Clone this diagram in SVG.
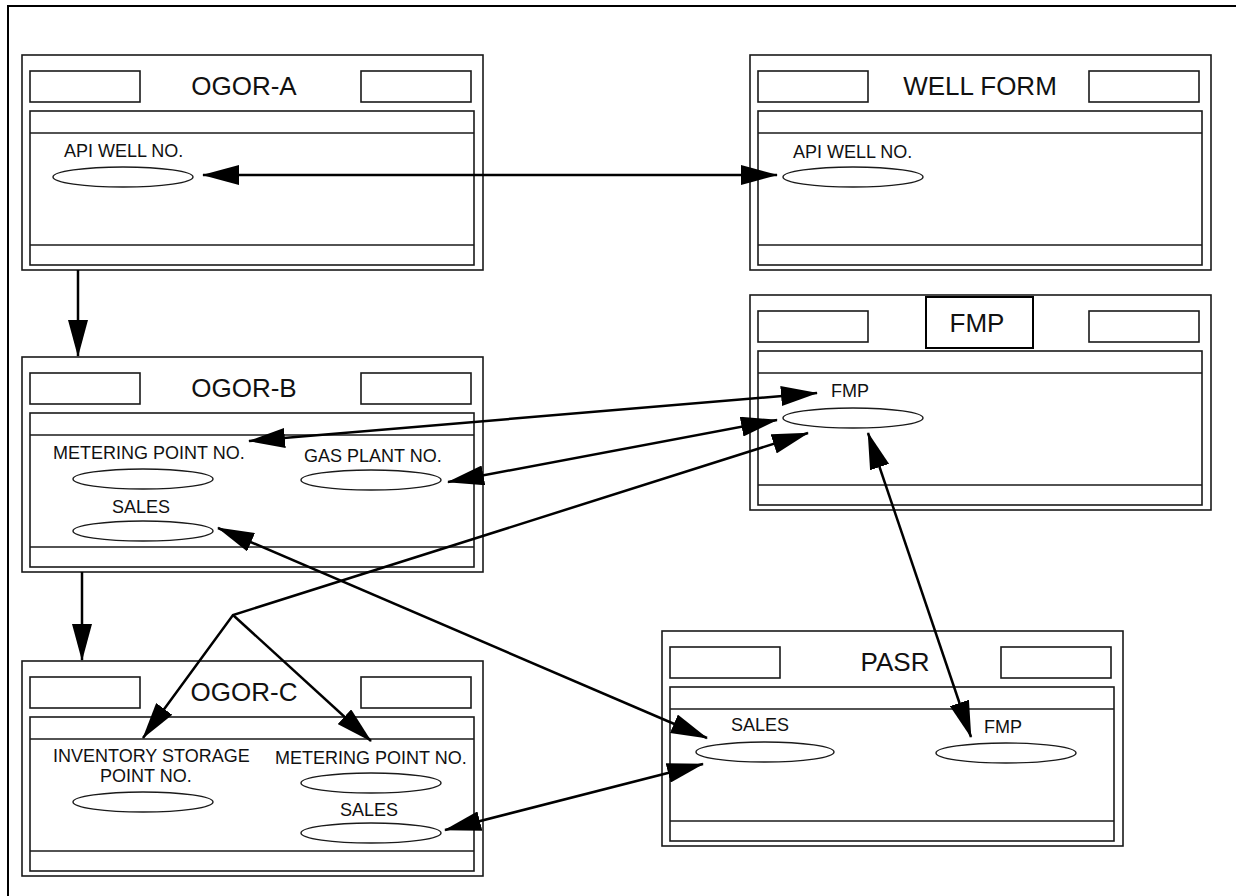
<svg xmlns="http://www.w3.org/2000/svg" xmlns:xlink="http://www.w3.org/1999/xlink" width="1236" height="896" viewBox="0 0 1236 896">
  <style>
    .frm { fill: none; stroke: #1a1a1a; stroke-width: 1.6; }
    .ell { fill: #ffffff; stroke: #1a1a1a; stroke-width: 1.4; }
    .title { font-family: "Liberation Sans", Arial, sans-serif; font-size: 26px; fill: #111; }
    .lbl { font-family: "Liberation Sans", Arial, sans-serif; font-size: 18px; fill: #111; }
    .mid { text-anchor: middle; }
    .con { fill: none; stroke: #000; stroke-width: 2.5; }
  </style>
  <defs>
    <marker id="ah" markerUnits="userSpaceOnUse" viewBox="0 0 37 20" markerWidth="37" markerHeight="20" refX="36" refY="10" orient="auto-start-reverse">
      <path d="M0,0 L37,10 L0,20 z" fill="#000"/>
    </marker>
    <g id="form">
      <rect class="frm" x="0" y="0" width="461" height="215"/>
      <rect class="frm" x="8" y="16" width="110" height="31"/>
      <rect class="frm" x="339" y="16" width="110" height="31"/>
      <rect class="frm" x="8" y="56" width="444" height="154"/>
      <line class="frm" x1="8" y1="78" x2="452" y2="78"/>
      <line class="frm" x1="8" y1="190" x2="452" y2="190"/>
    </g>
  </defs>
  <rect x="0" y="0" width="1236" height="896" fill="#ffffff"/>
  <path d="M8,896 V6 H1236" fill="none" stroke="#000" stroke-width="2"/>

  <g id="ogor-a" transform="translate(22,55)">
    <use xlink:href="#form"/>
    <text class="title mid" x="222" y="40">OGOR-A</text>
    <text class="lbl" x="42" y="102">API WELL NO.</text>
    <ellipse class="ell" cx="101" cy="122" rx="70" ry="10"/>
  </g>

  <g id="well-form" transform="translate(750,55)">
    <use xlink:href="#form"/>
    <text class="title mid" x="230" y="40">WELL FORM</text>
    <text class="lbl" x="43" y="103">API WELL NO.</text>
    <ellipse class="ell" cx="103" cy="122" rx="70" ry="10"/>
  </g>

  <g id="fmp" transform="translate(750,295)">
    <use xlink:href="#form"/>
    <rect x="176" y="2" width="107" height="51" fill="#ffffff" stroke="#000" stroke-width="2"/>
    <text class="title mid" x="227" y="37">FMP</text>
    <text class="lbl" x="81" y="102">FMP</text>
    <ellipse class="ell" cx="103" cy="123" rx="70" ry="10"/>
  </g>

  <g id="ogor-b" transform="translate(22,357)">
    <use xlink:href="#form"/>
    <text class="title mid" x="222" y="40">OGOR-B</text>
    <text class="lbl" x="31" y="102">METERING POINT NO.</text>
    <ellipse class="ell" cx="121" cy="122" rx="70" ry="10"/>
    <text class="lbl" x="282" y="105">GAS PLANT NO.</text>
    <ellipse class="ell" cx="349" cy="123" rx="70" ry="10"/>
    <text class="lbl mid" x="119" y="156">SALES</text>
    <ellipse class="ell" cx="121" cy="174" rx="70" ry="10"/>
  </g>

  <g id="ogor-c" transform="translate(22,661)">
    <use xlink:href="#form"/>
    <text class="title mid" x="222" y="40">OGOR-C</text>
    <text class="lbl" x="31" y="101">INVENTORY STORAGE</text>
    <text class="lbl" x="78" y="121">POINT NO.</text>
    <ellipse class="ell" cx="121" cy="141" rx="70" ry="10"/>
    <text class="lbl" x="253" y="103">METERING POINT NO.</text>
    <ellipse class="ell" cx="349" cy="122" rx="70" ry="10"/>
    <text class="lbl mid" x="347" y="155">SALES</text>
    <ellipse class="ell" cx="349" cy="172" rx="70" ry="10"/>
  </g>

  <g id="pasr" transform="translate(662,631)">
    <use xlink:href="#form"/>
    <text class="title mid" x="233" y="40">PASR</text>
    <text class="lbl mid" x="98" y="100">SALES</text>
    <ellipse class="ell" cx="103" cy="121" rx="69" ry="10"/>
    <text class="lbl" x="322" y="102">FMP</text>
    <ellipse class="ell" cx="344" cy="122" rx="70" ry="10"/>
  </g>

  <g id="connectors">
    <line class="con" x1="203" y1="175" x2="777" y2="175" marker-start="url(#ah)" marker-end="url(#ah)"/>
    <line class="con" x1="249" y1="441" x2="817" y2="393" marker-start="url(#ah)" marker-end="url(#ah)"/>
    <line class="con" x1="448" y1="482" x2="777" y2="420" marker-start="url(#ah)" marker-end="url(#ah)"/>
    <line class="con" x1="218" y1="528" x2="707" y2="738" marker-start="url(#ah)" marker-end="url(#ah)"/>
    <path class="con" d="M808,433 L233,615 L143,738" marker-start="url(#ah)" marker-end="url(#ah)"/>
    <path class="con" d="M233,615 L371,741" marker-end="url(#ah)"/>
    <line class="con" x1="868" y1="433" x2="971" y2="737" marker-start="url(#ah)" marker-end="url(#ah)"/>
    <line class="con" x1="445" y1="830" x2="703" y2="764" marker-start="url(#ah)" marker-end="url(#ah)"/>
    <line class="con" x1="78" y1="270" x2="78" y2="356" marker-end="url(#ah)"/>
    <line class="con" x1="82" y1="572" x2="82" y2="660" marker-end="url(#ah)"/>
  </g>
</svg>
